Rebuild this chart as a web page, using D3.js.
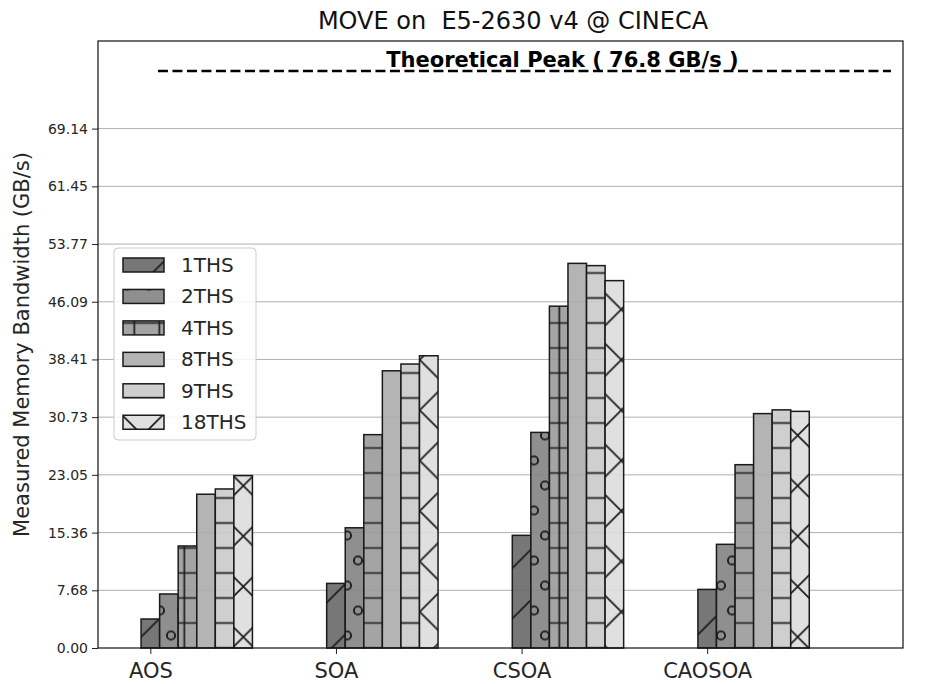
<!DOCTYPE html>
<html>
<head>
<meta charset="utf-8">
<script src="https://cdn.jsdelivr.net/npm/d3@7"></script>
<style>
  body { margin: 0; background: #fff; }
  svg { display: block; font-family: "DejaVu Sans", sans-serif; }
</style>
</head>
<body>
<div id="chart"></div>
<script>
// categories on the x axis
const categories = ["AOS", "SOA", "CSOA", "CAOSOA"];
// thread-count series, one value per category
const seriesNames = ["1THS", "2THS", "4THS", "8THS", "9THS", "18THS"];
const ths1 = [3.86, 8.6, 15.0, 7.8];
const ths2 = [7.19, 16.0, 28.7, 13.8];
const ths4 = [13.58, 28.4, 45.5, 24.4];
const ths8 = [20.47, 36.9, 51.2, 31.2];
const ths9 = [21.17, 37.8, 50.9, 31.7];
const ths18 = [22.95, 38.9, 48.9, 31.5];
const seriesValues = [ths1, ths2, ths4, ths8, ths9, ths18];
// y ticks as printed on the chart
const yTicks = [0, 7.68, 15.36, 23.05, 30.73, 38.41, 46.09, 53.77, 61.45, 69.14];
const peakValue = 76.8;
const peakLabel = "Theoretical Peak ( 76.8 GB/s )";

const width = 933, height = 684;
const margin = {left: 98, right: 903, top: 41, bottom: 648};
const barW = 0.1;

// bar fills (drawn at 0.9 opacity) and hatch ids
const fills = ["#686868", "#838383", "#9a9a9a", "#acacac", "#cacaca", "#dddddd"];
const hatchIds = ["h1", "h2", "h4", null, "h9", "h18"];

const svg = d3.select("#chart").append("svg")
    .attr("width", width)
    .attr("height", height);

const x = d3.scaleLinear().domain([-0.282, 4.055]).range([margin.left, margin.right]);
const y = d3.scaleLinear().domain([0, 80.8]).range([margin.bottom, margin.top]);

// hatch patterns, aligned to page coordinates like matplotlib
const defs = svg.append("defs");
const hatchStroke = "#1a1a1a", hatchW = 1.7;

function pattern(id, w, h, px, py) {
    return defs.append("pattern")
        .attr("id", id)
        .attr("patternUnits", "userSpaceOnUse")
        .attr("width", w).attr("height", h)
        .attr("x", px).attr("y", py);
}

pattern("h1", 50.4, 50.4, 22.1, 0).append("path")
    .attr("d", "M0,50.4L50.4,0M-10,10L10,-10M40.4,60.4L60.4,40.4")
    .attr("stroke", hatchStroke).attr("stroke-width", hatchW).attr("fill", "none");

const p2 = pattern("h2", 22, 50, 6, 10.5);
[[0, 0], [22, 0], [0, 50], [22, 50], [11, 25]].forEach(([cx, cy]) => {
    p2.append("circle").attr("cx", cx).attr("cy", cy).attr("r", 4.1)
        .attr("fill", "none").attr("stroke", hatchStroke).attr("stroke-width", 1.9);
});

pattern("h4", 25, 25, -3.2, 10.5).append("path")
    .attr("d", "M0,12.5H25M12.5,0V25")
    .attr("stroke", hatchStroke).attr("stroke-width", hatchW).attr("fill", "none");

pattern("h9", 25, 25, 0, 10.5).append("path")
    .attr("d", "M0,12.5H25")
    .attr("stroke", hatchStroke).attr("stroke-width", hatchW).attr("fill", "none");

pattern("h18", 50.4, 50.4, 218.1, 611.8).append("path")
    .attr("d", "M0,0L50.4,50.4M50.4,0L0,50.4M-10,-10L0,0M50.4,50.4L60,60")
    .attr("stroke", hatchStroke).attr("stroke-width", hatchW).attr("fill", "none");

// grid lines
svg.append("g").selectAll("line")
    .data(yTicks.slice(1))
    .enter().append("line")
    .attr("x1", margin.left).attr("x2", margin.right)
    .attr("y1", d => y(d)).attr("y2", d => y(d))
    .attr("stroke", "#b0b0b0").attr("stroke-width", 1);

// bars
seriesValues.forEach((vals, i) => {
    const g = svg.append("g").attr("class", "series");
    const rects = vals.map((v, j) => ({v, j}));
    g.selectAll("rect.base")
        .data(rects)
        .enter().append("rect")
        .attr("class", "base")
        .attr("x", d => x(d.j + i * barW - barW / 2))
        .attr("width", x(barW) - x(0))
        .attr("y", d => y(d.v))
        .attr("height", d => y(0) - y(d.v))
        .attr("fill", fills[i])
        .attr("fill-opacity", 0.9);
    if (hatchIds[i]) {
        g.selectAll("rect.hatch")
            .data(rects)
            .enter().append("rect")
            .attr("class", "hatch")
            .attr("x", d => x(d.j + i * barW - barW / 2))
            .attr("width", x(barW) - x(0))
            .attr("y", d => y(d.v))
            .attr("height", d => y(0) - y(d.v))
            .attr("fill", `url(#${hatchIds[i]})`);
    }
    g.selectAll("rect.edge")
        .data(rects)
        .enter().append("rect")
        .attr("class", "edge")
        .attr("x", d => x(d.j + i * barW - barW / 2))
        .attr("width", x(barW) - x(0))
        .attr("y", d => y(d.v))
        .attr("height", d => y(0) - y(d.v))
        .attr("fill", "none")
        .attr("stroke", "#1a1a1a")
        .attr("stroke-width", 1.5);
});

// theoretical peak line + label
svg.append("line")
    .attr("x1", x(0.041)).attr("x2", x(3.99))
    .attr("y1", y(peakValue)).attr("y2", y(peakValue))
    .attr("stroke", "#000")
    .attr("stroke-width", 2.6)
    .attr("stroke-dasharray", "10,4.5");

svg.append("text")
    .attr("x", x(2.22))
    .attr("y", y(peakValue) - 4)
    .attr("text-anchor", "middle")
    .attr("font-size", "21px")
    .attr("font-weight", "bold")
    .attr("fill", "#000")
    .text(peakLabel);

// axes
const yAxis = svg.append("g")
    .attr("transform", `translate(${margin.left},0)`)
    .call(d3.axisLeft(y).tickValues(yTicks).tickFormat(d3.format(".2f")).tickSize(6).tickPadding(4));
yAxis.select(".domain").remove();
yAxis.selectAll("text").attr("font-size", "14px").attr("fill", "#262626").attr("font-family", "DejaVu Sans");
yAxis.selectAll("line").attr("stroke", "#222");

const xAxis = svg.append("g")
    .attr("transform", `translate(0,${margin.bottom})`)
    .call(d3.axisBottom(x).tickValues(d3.range(categories.length)).tickFormat(i => categories[i]).tickSize(6).tickPadding(9));
xAxis.select(".domain").remove();
xAxis.selectAll("text").attr("font-size", "21px").attr("fill", "#262626").attr("font-family", "DejaVu Sans");
xAxis.selectAll("line").attr("stroke", "#222");

// frame
svg.append("rect")
    .attr("x", margin.left).attr("y", margin.top)
    .attr("width", margin.right - margin.left)
    .attr("height", margin.bottom - margin.top)
    .attr("fill", "none").attr("stroke", "#111").attr("stroke-width", 1.2);

// y label
svg.append("text")
    .attr("transform", `translate(29,${(margin.top + margin.bottom) / 2}) rotate(-90)`)
    .attr("text-anchor", "middle")
    .attr("font-size", "21px")
    .attr("fill", "#262626")
    .text("Measured Memory Bandwidth (GB/s)");

// title
svg.append("text")
    .attr("x", 513).attr("y", 29)
    .attr("text-anchor", "middle")
    .attr("font-size", "24px")
    .attr("fill", "#111")
    .text("MOVE on  E5-2630 v4 @ CINECA")
    .style("white-space", "pre");

// legend
const legend = svg.append("g");
legend.append("rect")
    .attr("x", 114).attr("y", 248)
    .attr("width", 142).attr("height", 192)
    .attr("rx", 4)
    .attr("fill", "#fff").attr("fill-opacity", 0.85)
    .attr("stroke", "#ccc");

seriesNames.forEach((name, i) => {
    const cy = 265 + i * 31.45;
    legend.append("rect")
        .attr("x", 123).attr("y", cy - 7)
        .attr("width", 41).attr("height", 14)
        .attr("fill", fills[i]).attr("fill-opacity", 0.9);
    if (hatchIds[i]) {
        legend.append("rect")
            .attr("x", 123).attr("y", cy - 7)
            .attr("width", 41).attr("height", 14)
            .attr("fill", `url(#${hatchIds[i]})`);
    }
    legend.append("rect")
        .attr("x", 123).attr("y", cy - 7)
        .attr("width", 41).attr("height", 14)
        .attr("fill", "none").attr("stroke", "#1a1a1a").attr("stroke-width", 1.5);
    legend.append("text")
        .attr("x", 181).attr("y", cy + 7)
        .attr("font-size", "20px")
        .attr("fill", "#262626")
        .text(name);
});
</script>
</body>
</html>
